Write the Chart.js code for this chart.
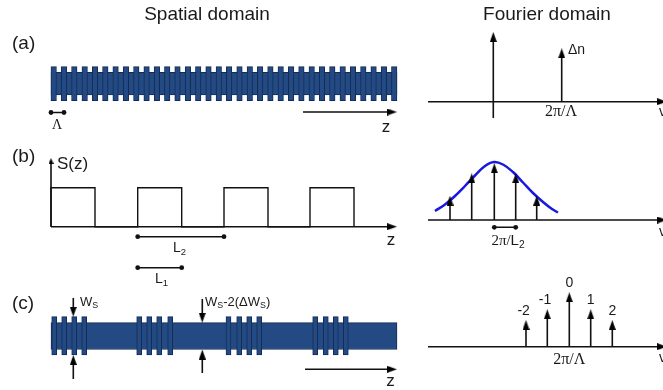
<!DOCTYPE html>
<html>
<head>
<meta charset="utf-8">
<script src="https://cdn.jsdelivr.net/npm/chart.js@4.4.1/dist/chart.umd.min.js"></script>
<style>
  html, body { margin: 0; padding: 0; background: #fff; }
</style>
</head>
<body>
<canvas id="fig" width="663" height="390"></canvas>
<script>
// Figure units: 1 unit = 1 px of the 663x390 figure, y grows downward.

// (a) uniform grating - tooth centres along z (one period Λ apart)
var teethA = [53.7, 64.0, 74.3, 84.7, 95.0, 105.3, 115.6, 125.9, 136.3, 146.6, 156.9, 167.2,
              177.5, 187.9, 198.2, 208.5, 218.8, 229.1, 239.5, 249.8, 260.1, 270.4, 280.7, 291.1,
              301.4, 311.7, 322.0, 332.3, 342.7, 353.0, 363.3, 373.6, 383.9, 394.2];
// (c) sampled grating - tooth centres, four bursts
var teethC = [54.2, 64.2, 74.2, 84.2, 139.2, 149.2, 159.2, 170.2,
              228.5, 239.2, 249.2, 259.2, 315.2, 325.8, 335.8, 345.8];
// (b) sampling function S(z): start of each "on" window, window length L1
var sampleStarts = [51, 137.7, 224, 310];
var sampleLen = 44;

// Fourier domain stems: position and tip height
var stemXA = [561.7];          var stemTipA = [48.3];
var stemXB = [450, 471.7, 494.3, 515.7, 536.7];
var stemTipB = [195.7, 173.3, 163.3, 173.3, 195.7];
var stemXC = [526, 547.3, 569.3, 590.7, 612.3];
var stemTipC = [320, 309.3, 292.3, 309.3, 320];
var orderLabels = ['-2', '-1', '0', '1', '2'];
// (b) envelope (blue curve)
var envX = [435, 445, 455, 465, 475, 485, 494, 503, 513, 523, 533, 543, 552, 558];
var envY = [211, 204.5, 196, 186, 175.5, 166, 162, 164.5, 172, 182.5, 193, 202, 209, 212.5];

// ---- layout ----
var Z0 = 51, Z1 = 397;
var baseA = 101.7, baseB = 220, baseC = 346.7;
var SANS = '"Liberation Sans", Arial, sans-serif';
var SERIF = '"Liberation Serif", "Times New Roman", serif';
var BLUE = '#244a84', EDGE = '#142c55';

function headImage(w, h) {
  var c = document.createElement('canvas');
  c.width = w; c.height = h;
  var g = c.getContext('2d');
  g.fillStyle = '#000';
  g.beginPath(); g.moveTo(w / 2, 0); g.lineTo(w, h); g.lineTo(0, h); g.closePath(); g.fill();
  return c;
}
var bigHead = headImage(7, 10), smallHead = headImage(5, 6);

// arrows: [x1, y1, xTip, yTip, small?]
var arrows = [
  [303, 112, 397, 112],                 // z (a)
  [428, baseA, 667, baseA],             // ν axis (a)
  [493.3, 118, 493.3, 32],              // vertical axis (a)
  [51, 226.7, 51, 158, 1],              // S(z) axis
  [51, 226.7, 397, 226.7],              // z (b)
  [428, baseB, 667, baseB],             // ν axis (b)
  [73.3, 298, 73.3, 316.7],             // Ws top
  [73.3, 379, 73.3, 355],               // Ws bottom
  [202.3, 299, 202.3, 322.7],           // Ws-2ΔWs top
  [202.3, 373, 202.3, 349.5],           // Ws-2ΔWs bottom
  [305, 369.3, 397, 369.3],             // z (c)
  [428, baseC, 667, baseC]              // ν axis (c)
];
stemXA.forEach(function (x, i) { arrows.push([x, baseA, x, stemTipA[i]]); });
stemXB.forEach(function (x, i) { arrows.push([x, baseB, x, stemTipB[i]]); });
stemXC.forEach(function (x, i) { arrows.push([x, baseC, x, stemTipC[i]]); });

// plain segments with dotted ends
var markers = [
  [51, 112.5, 64, 112.5],       // Λ
  [137.7, 236.7, 224, 236.7],   // L2
  [137.7, 267.7, 181.7, 267.7], // L1
  [494.3, 227.3, 515.7, 227.3]  // 2π/L2
];

var lineData = [], headData = [], headStyle = [], headRot = [], dotData = [];
arrows.forEach(function (a) {
  var img = a[4] ? smallHead : bigHead;
  var dx = a[2] - a[0], dy = a[3] - a[1], len = Math.sqrt(dx * dx + dy * dy);
  var ux = dx / len, uy = dy / len, h = img.height;
  lineData.push({x: a[0], y: a[1]}, {x: a[2] - ux * h * 0.6, y: a[3] - uy * h * 0.6}, {x: a[0], y: null});
  headData.push({x: a[2] - ux * h / 2, y: a[3] - uy * h / 2});
  headStyle.push(img);
  headRot.push(Math.atan2(ux, -uy) * 180 / Math.PI);
});
markers.forEach(function (m) {
  lineData.push({x: m[0], y: m[1]}, {x: m[2], y: m[3]}, {x: m[0], y: null});
  dotData.push({x: m[0], y: m[1]}, {x: m[2], y: m[3]});
});

var squareWave = [];
sampleStarts.forEach(function (s) {
  squareWave.push({x: s, y: 226.7}, {x: s, y: 187.7}, {x: s + sampleLen, y: 187.7}, {x: s + sampleLen, y: 226.7});
});

var texts = [
  {p: [['Spatial domain']], x: 207, y: 15, size: 19, align: 'center'},
  {p: [['Fourier domain']], x: 547, y: 15, size: 19, align: 'center'},
  {p: [['(a)']], x: 12, y: 44, size: 19},
  {p: [['(b)']], x: 12, y: 157, size: 19},
  {p: [['(c)']], x: 12, y: 304, size: 19},
  {p: [['Λ', 0, 1]], x: 57, y: 125, size: 14, align: 'center'},
  {p: [['z']], x: 386, y: 127, size: 17, align: 'center'},
  {p: [['z']], x: 391, y: 240, size: 17, align: 'center'},
  {p: [['z']], x: 390.5, y: 381, size: 17, align: 'center'},
  {p: [['Δn']], x: 568, y: 50, size: 14},
  {p: [['2π/Λ', 0, 1]], x: 561, y: 112, size: 16, align: 'center'},
  {p: [['v']], x: 659, y: 112, size: 14},
  {p: [['S(z)']], x: 57, y: 164, size: 17},
  {p: [['L'], ['2', 1]], x: 173, y: 248, size: 14},
  {p: [['L'], ['1', 1]], x: 155, y: 279, size: 14},
  {p: [['2π/', 0, 1], ['L'], ['2', 1]], x: 508, y: 241, size: 15, align: 'center'},
  {p: [['v']], x: 659, y: 232, size: 14},
  {p: [['W'], ['S', 1]], x: 80, y: 302, size: 13},
  {p: [['W'], ['S', 1], ['-2(ΔW'], ['S', 1], [')']], x: 205, y: 302, size: 13},
  {p: [['2π/Λ', 0, 1]], x: 569.3, y: 359.3, size: 16, align: 'center'},
  {p: [['v']], x: 659, y: 358, size: 14}
];

function partFont(part, size) {
  var s = part[1] ? size * 0.68 : size;
  return s + 'px ' + (part[2] ? SERIF : SANS);
}
function drawRich(c, t, px, py) {
  var w = 0;
  t.p.forEach(function (part) { c.font = partFont(part, t.size); w += c.measureText(part[0]).width; });
  var x = t.align === 'center' ? px - w / 2 : px;
  c.textBaseline = 'middle';
  c.textAlign = 'left';
  t.p.forEach(function (part) {
    c.font = partFont(part, t.size);
    c.fillText(part[0], x, part[1] ? py + t.size * 0.3 : py);
    x += c.measureText(part[0]).width;
  });
}

var textPlugin = {
  id: 'figureText',
  afterDatasetsDraw: function (chart) {
    var c = chart.ctx, xs = chart.scales.x, ys = chart.scales.y;
    c.save();
    c.fillStyle = '#1a1a1a';
    texts.forEach(function (t) {
      drawRich(c, t, xs.getPixelForValue(t.x), ys.getPixelForValue(t.y));
    });
    // diffraction order labels over the (c) stems
    c.font = '14px ' + SANS;
    c.textBaseline = 'middle';
    c.textAlign = 'left';
    orderLabels.forEach(function (lab, i) {
      var w = c.measureText(lab).width, d = c.measureText(lab.slice(-1)).width;
      var x = xs.getPixelForValue(stemXC[i]) + d / 2 - w;
      c.fillText(lab, x, ys.getPixelForValue(stemTipC[i] - 9));
    });
    c.restore();
  }
};

var datasets = [
  {type: 'bar', order: 10, grouped: false, barThickness: Z1 - Z0,
   data: [{x: (Z0 + Z1) / 2, y: [72.3, 95]}, {x: (Z0 + Z1) / 2, y: [322.7, 349.5]}],
   backgroundColor: BLUE, borderColor: EDGE, borderWidth: 1, borderSkipped: false},
  {type: 'bar', order: 9, grouped: false, barThickness: 5.5,
   data: teethA.map(function (z) { return {x: z, y: [66.7, 100.7]}; }),
   backgroundColor: BLUE, borderColor: EDGE, borderWidth: 1, borderSkipped: false},
  {type: 'bar', order: 9, grouped: false, barThickness: 5,
   data: teethC.map(function (z) { return {x: z, y: [316.7, 355]}; }),
   backgroundColor: BLUE, borderColor: EDGE, borderWidth: 1, borderSkipped: false},
  {type: 'line', order: 8, data: squareWave, showLine: true, pointRadius: 0,
   borderColor: '#111', borderWidth: 1.4, tension: 0, fill: false},
  {type: 'line', order: 7, data: lineData, showLine: true, pointRadius: 0, spanGaps: false,
   borderColor: '#111', borderWidth: 1.6, tension: 0, fill: false},
  {type: 'line', order: 6, data: envX.map(function (x, i) { return {x: x, y: envY[i]}; }),
   showLine: true, pointRadius: 0, borderColor: '#1818e0', borderWidth: 2.5, tension: 0.4, fill: false},
  {type: 'scatter', order: 5, data: headData, pointStyle: headStyle, pointRotation: headRot,
   pointRadius: 5, showLine: false},
  {type: 'scatter', order: 4, data: dotData, pointRadius: 2.4, pointBackgroundColor: '#111',
   pointBorderWidth: 0, showLine: false}
];

new Chart(document.getElementById('fig'), {
  type: 'scatter',
  data: {datasets: datasets},
  options: {
    responsive: false,
    animation: false,
    events: [],
    layout: {padding: 0, autoPadding: false},
    plugins: {legend: {display: false}, tooltip: {enabled: false}},
    scales: {
      x: {type: 'linear', min: 0, max: 663, display: false, offset: false},
      y: {type: 'linear', min: 0, max: 390, reverse: true, display: false, offset: false}
    }
  },
  plugins: [textPlugin]
});
</script>
</body>
</html>
